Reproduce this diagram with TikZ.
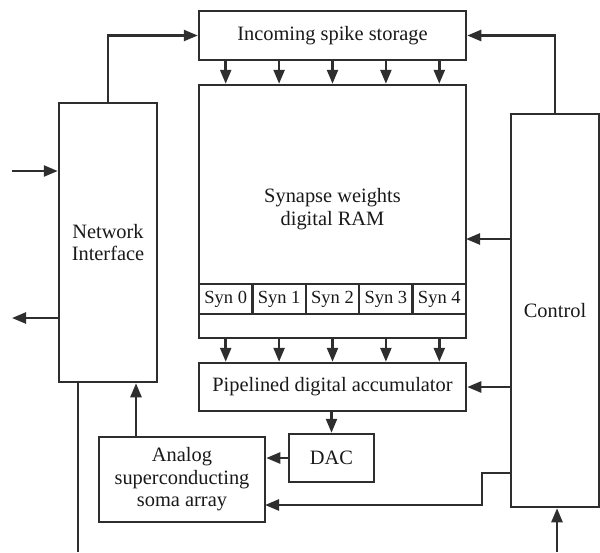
\documentclass[tikz,border=0pt]{standalone}
\usepackage{fontspec}
\setmainfont{Liberation Serif}
\usetikzlibrary{positioning}
\usetikzlibrary{arrows.meta}
\tikzset{
  block/.style   = { rectangle, draw, minimum width=#1, align=center },
  synbox/.style  = { rectangle, draw, minimum width=53.4pt, minimum height=30pt,
                     inner sep=0pt, outer sep=0pt, font=\fontsize{18.5}{20}\selectfont },
  flow/.style    = { -{Triangle[length=14pt,width=11pt]} },
}

\begin{document}
\begin{tikzpicture}[
  x=1pt,y=-1pt,
  node distance=0pt,
  line width=2.5pt,black!82,text=black!90,
  font=\fontsize{20.4}{22.5}\selectfont
]
  \useasboundingbox (0,0) rectangle (600,552);

  \node (spikes) [block=267pt,minimum height=49pt]  at (332.5,35.5) {Incoming spike storage};
  \node (ram)    [block=267pt,minimum height=253pt] at (332.5,211.5) {};
  \node (ramtxt) [align=center] at (332.5,209) {Synapse weights\\digital RAM};
  \node (syn0)   [synbox] at (225.7,299) {Syn 0};
  \foreach \i [count=\j from 1] in {0,...,3}
    \node (syn\j) [synbox,right=of syn\i] {Syn \j};
  \node (acc)    [block=267pt,minimum height=48pt]  at (332.5,387) {Pipelined digital accumulator};
  \node (dac)    [block=85pt,minimum height=48pt]   at (331.5,458) {DAC};
  \node (soma)   [block=166pt,minimum height=85pt]  at (182,479.5)
                 {Analog\\superconducting\\soma array};
  \node (netif)  [block=98pt,minimum height=279pt]  at (108,242.5) {Network\\Interface};
  \node (ctrl)   [block=88pt,minimum height=393pt]  at (555,310.5) {Control};

  % free ends and taps
  \coordinate (in)     at (12,171);
  \coordinate (out)    at (12,318);
  \coordinate (down)   at (78,552);
  \coordinate (up)     at (557,552);
  \coordinate (ramin)  at (466,239);
  \coordinate (somain) at (265,505);
  \coordinate (bend)   at (482,473);
  \coordinate (somaup) at (136,437);

  \draw [flow] (netif.north) |- (spikes.west);
  \draw [flow] (ctrl.north)  |- (spikes.east);
  \foreach \i in {0,...,4} {
    \draw [flow] (spikes.south -| syn\i) -- (ram.north -| syn\i);
    \draw [flow] (ram.south -| syn\i)    -- (acc.north -| syn\i);
  }
  \draw [flow] (acc.south -| dac) -- (dac.north);
  \draw [flow] (dac.west) -- (dac.west -| soma.east);
  \draw [flow] (ctrl.west |- ramin) -- (ramin);
  \draw [flow] (ctrl.west |- acc.east) -- (acc.east);
  \draw [flow] (ctrl.west |- bend) -- (bend) |- (somain);
  \draw [flow] (somaup) -- (somaup |- netif.south);
  \draw [flow] (in) -- (in -| netif.west);
  \draw [flow] (out -| netif.west) -- (out);
  \draw        (down |- netif.south) -- (down);
  \draw [flow] (up) -- (up |- ctrl.south);
\end{tikzpicture}
\end{document}
